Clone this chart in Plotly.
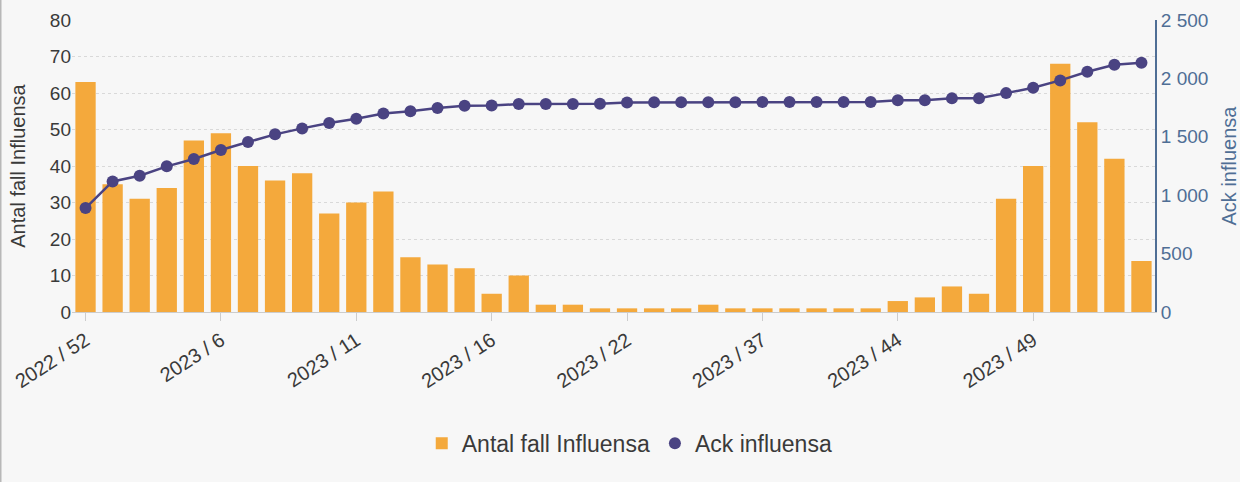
import plotly.graph_objects as go

weeks = ["2022 / 52", "2023 / 2", "2023 / 3", "2023 / 4", "2023 / 5",
         "2023 / 6", "2023 / 7", "2023 / 8", "2023 / 9", "2023 / 10",
         "2023 / 11", "2023 / 12", "2023 / 13", "2023 / 14", "2023 / 15",
         "2023 / 16", "2023 / 17", "2023 / 18", "2023 / 19", "2023 / 20",
         "2023 / 22", "2023 / 23", "2023 / 24", "2023 / 33", "2023 / 35",
         "2023 / 37", "2023 / 38", "2023 / 39", "2023 / 41", "2023 / 42",
         "2023 / 44", "2023 / 45", "2023 / 46", "2023 / 47", "2023 / 48",
         "2023 / 49", "2023 / 50", "2023 / 51", "2023 / 52", "2024 / 1"]

antal_fall = [63, 35, 31, 34, 47, 49, 40, 36, 38, 27,
              30, 33, 15, 13, 12, 5, 10, 2, 2, 1,
              1, 1, 1, 2, 1, 1, 1, 1, 1, 1,
              3, 4, 7, 5, 31, 40, 68, 52, 42, 14]

ack_influensa = [890, 1118, 1167, 1247, 1310, 1387, 1455, 1521, 1572, 1618,
                 1655, 1700, 1718, 1746, 1766, 1768, 1780, 1780, 1781, 1782,
                 1794, 1795, 1795, 1796, 1796, 1797, 1797, 1797, 1798, 1798,
                 1812, 1813, 1829, 1830, 1874, 1920, 1983, 2057, 2117, 2134]

tick_labels = ["2022 / 52", "2023 / 6", "2023 / 11", "2023 / 16",
               "2023 / 22", "2023 / 37", "2023 / 44", "2023 / 49"]

left_ticks = [0, 10, 20, 30, 40, 50, 60, 70, 80]
right_ticks = [0, 500, 1000, 1500, 2000, 2500]
right_tick_text = ["0", "500", "1 000", "1 500", "2 000", "2 500"]

bar_color = "#f4a93c"
line_color = "#4a4382"
right_color = "#4f6e95"
text_color = "#3a3a3a"
font_family = "Liberation Sans, Arial, sans-serif"

fig = go.Figure()
fig.add_trace(go.Bar(
    x=weeks, y=antal_fall, name="Antal fall Influensa",
    marker=dict(color=bar_color, line=dict(width=0)),
    yaxis="y",
))
fig.add_trace(go.Scatter(
    x=weeks, y=ack_influensa, mode="lines", showlegend=False,
    line=dict(color=line_color, width=2.5), yaxis="y2",
))
fig.add_trace(go.Scatter(
    x=weeks, y=ack_influensa, mode="markers", name="Ack influensa",
    marker=dict(color=line_color, size=12), yaxis="y2",
))

fig.update_layout(
    width=1240, height=482,
    margin=dict(l=72, r=85, t=20, b=170),
    paper_bgcolor="#f7f7f7", plot_bgcolor="#f7f7f7",
    font=dict(family=font_family, size=19, color=text_color),
    bargap=0.25,
    showlegend=True,
    legend=dict(orientation="h", x=0.515, xanchor="center", y=-0.45, yanchor="middle",
                font=dict(size=23, color=text_color), bgcolor="rgba(0,0,0,0)",
                itemwidth=30, tracegroupgap=0),
    xaxis=dict(
        type="category", categoryorder="array", categoryarray=weeks,
        range=[-0.5, len(weeks) - 0.5], automargin=False,
        tickmode="array", tickvals=tick_labels, ticktext=tick_labels,
        tickangle=-33, ticks="outside", ticklen=8, tickcolor="#cccccc",
        showgrid=False, showline=True, linecolor="#cccccc", linewidth=1,
        tickfont=dict(size=20, color=text_color),
    ),
    yaxis=dict(
        range=[0, 80], tickvals=left_ticks, automargin=False,
        showgrid=True, gridcolor="#d9d9d9", griddash="dot", gridwidth=1,
        zeroline=False, showline=False,
        title=dict(text="Antal fall Influensa", font=dict(size=20, color=text_color), standoff=18),
        tickfont=dict(size=19, color=text_color),
    ),
    yaxis2=dict(
        range=[0, 2500], overlaying="y", side="right", automargin=False,
        tickvals=right_ticks, ticktext=right_tick_text,
        showgrid=False, zeroline=False,
        showline=True, linecolor=right_color, linewidth=2,
        title=dict(text="Ack influensa", font=dict(size=20, color=right_color), standoff=17),
        tickfont=dict(size=19, color=right_color),
    ),
    shapes=[dict(type="line", xref="paper", yref="paper",
                 x0=-71.5 / 1083, x1=-71.5 / 1083, y0=-170 / 292, y1=20 / 292 + 1,
                 line=dict(color="#b8b8b8", width=2))],
)

fig.write_html("out.html", config={"displayModeBar": False},
               post_script="document.body.style.margin='0';document.body.style.overflow='hidden';")
